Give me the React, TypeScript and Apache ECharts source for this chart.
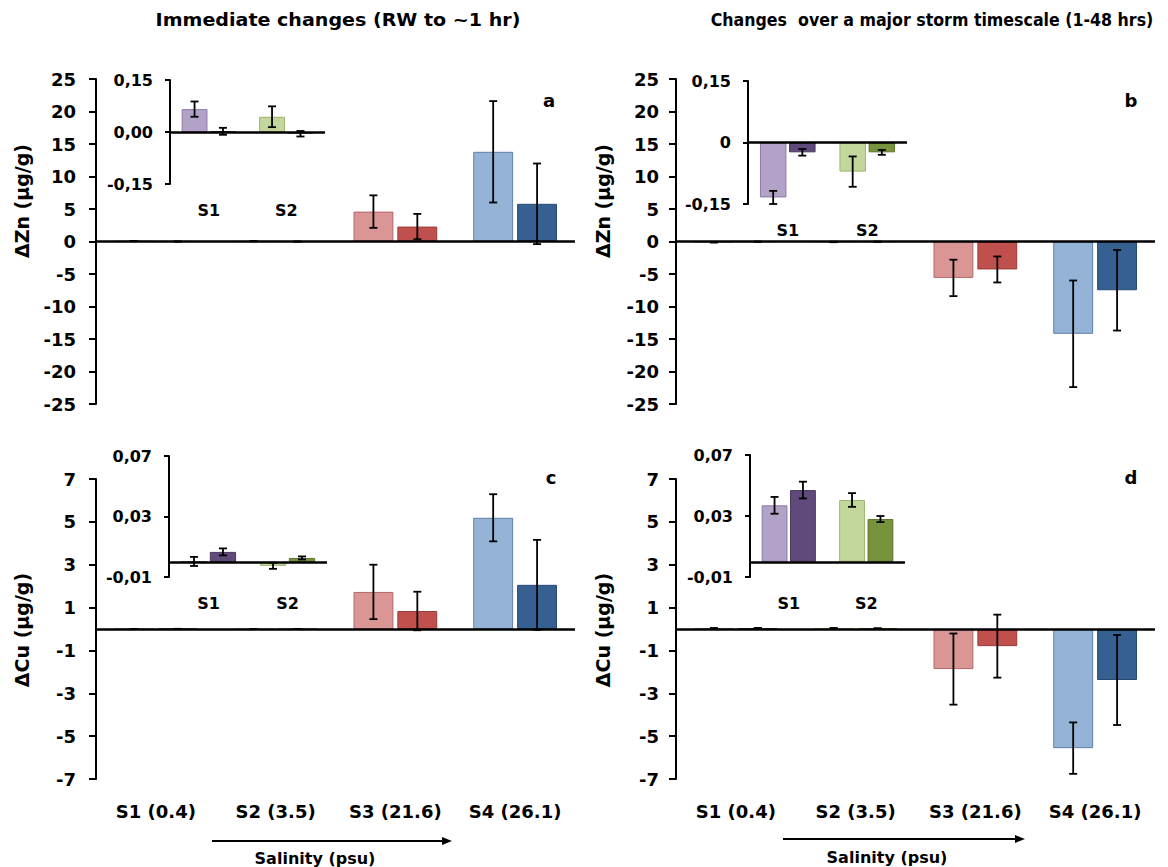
import { useEffect, useRef } from 'react';
import * as echarts from 'echarts';

const categories = ['S1 (0.4)', 'S2 (3.5)', 'S3 (21.6)', 'S4 (26.1)'];
const insetCategories = ['S1', 'S2'];

// Panel a: ΔZn, immediate changes
const znImmLight = [0.066, 0.044, 4.6, 13.8];
const znImmLightErr = [0.022, 0.03, 2.5, 7.8];
const znImmDark = [0.002, -0.005, 2.3, 5.8];
const znImmDarkErr = [0.01, 0.008, 1.95, 6.2];

// Panel b: ΔZn, storm timescale
const znStormLight = [-0.134, -0.071, -5.6, -14.2];
const znStormLightErr = [0.016, 0.037, 2.8, 8.2];
const znStormDark = [-0.024, -0.024, -4.3, -7.5];
const znStormDarkErr = [0.008, 0.006, 2.0, 6.2];

// Panel c: ΔCu, immediate changes
const cuImmLight = [0.0003, -0.0026, 1.73, 5.19];
const cuImmLightErr = [0.003, 0.002, 1.27, 1.1];
const cuImmDark = [0.0066, 0.0026, 0.84, 2.06];
const cuImmDarkErr = [0.0023, 0.001, 0.9, 2.1];

// Panel d: ΔCu, storm timescale
const cuStormLight = [0.037, 0.0405, -1.87, -5.56];
const cuStormLightErr = [0.0055, 0.0045, 1.66, 1.2];
const cuStormDark = [0.047, 0.028, -0.8, -2.38];
const cuStormDarkErr = [0.0055, 0.002, 1.47, 2.1];

const lightColors = ['#B3A2C7', '#C3D69B', '#D99694', '#95B3D7'];
const lightBorders = ['#8E7AA8', '#9DB56E', '#B56765', '#5F7FA8'];
const darkColors = ['#604A7B', '#77933C', '#C0504D', '#376092'];
const darkBorders = ['#4A385F', '#5E7530', '#9A3C3A', '#284A72'];

const FONT = '"DejaVu Sans", Verdana, sans-serif';

const panels = [
  { light: znImmLight, lightErr: znImmLightErr, dark: znImmDark, darkErr: znImmDarkErr },
  { light: znStormLight, lightErr: znStormLightErr, dark: znStormDark, darkErr: znStormDarkErr },
  { light: cuImmLight, lightErr: cuImmLightErr, dark: cuImmDark, darkErr: cuImmDarkErr },
  { light: cuStormLight, lightErr: cuStormLightErr, dark: cuStormDark, darkErr: cuStormDarkErr },
];

const mainGrids = [
  { left: 96, top: 79, width: 479, height: 325 },
  { left: 676, top: 79, width: 479, height: 325 },
  { left: 96, top: 479, width: 479, height: 300 },
  { left: 676, top: 479, width: 479, height: 300 },
];
const insetGrids = [
  { left: 170, top: 80, width: 155, height: 104 },
  { left: 748, top: 81, width: 159, height: 123 },
  { left: 169, top: 456, width: 158, height: 121 },
  { left: 750, top: 455, width: 155, height: 122 },
];

const comma2 = (v: number) => v.toFixed(2).replace('.', ',');
const insetFormatters = [
  comma2,
  (v: number) => (Math.abs(v) < 1e-9 ? '0' : comma2(v)),
  comma2,
  comma2,
];
const mainRanges = [
  { min: -25, max: 25, interval: 5 },
  { min: -25, max: 25, interval: 5 },
  { min: -7, max: 7, interval: 2 },
  { min: -7, max: 7, interval: 2 },
];
const insetRanges = [
  { min: -0.15, max: 0.15, interval: 0.15 },
  { min: -0.15, max: 0.15, interval: 0.15 },
  { min: -0.01, max: 0.07, interval: 0.04 },
  { min: -0.01, max: 0.07, interval: 0.04 },
];

function barSeries(axisIdx: number, vals: number[], colors: string[], borders: string[], withZero: boolean) {
  const s: any = {
    type: 'bar',
    xAxisIndex: axisIdx,
    yAxisIndex: axisIdx,
    barWidth: '33.3%',
    barGap: '10%',
    silent: true,
    data: vals.map((v, i) => ({
      value: v,
      itemStyle: { color: colors[i], borderColor: borders[i], borderWidth: 1 },
    })),
  };
  if (withZero) {
    s.markLine = {
      silent: true,
      symbol: ['none', 'none'],
      label: { show: false },
      lineStyle: { color: '#000', width: 2.5, type: 'solid' },
      data: [{ yAxis: 0 }],
      z: 6,
    };
  }
  return s;
}

function errSeries(axisIdx: number, vals: number[], errs: number[], sign: number) {
  return {
    type: 'custom',
    xAxisIndex: axisIdx,
    yAxisIndex: axisIdx,
    z: 8,
    silent: true,
    encode: { x: 0, y: [1, 2] },
    data: vals.map((v, i) => [i, v - errs[i], v + errs[i]]),
    renderItem: (params: any, api: any) => {
      const i = api.value(0);
      const lo = api.coord([i, api.value(1)]);
      const hi = api.coord([i, api.value(2)]);
      const band = api.size([1, 0])[0];
      const x = lo[0] + sign * band * (22 / 120);
      const st = { stroke: '#000', lineWidth: 1.8 };
      return {
        type: 'group',
        children: [
          { type: 'line', shape: { x1: x, y1: lo[1], x2: x, y2: hi[1] }, style: st },
          { type: 'line', shape: { x1: x - 4, y1: lo[1], x2: x + 4, y2: lo[1] }, style: st },
          { type: 'line', shape: { x1: x - 4, y1: hi[1], x2: x + 4, y2: hi[1] }, style: st },
        ],
      };
    },
  };
}

function buildOption() {
  const grid: any[] = [...mainGrids, ...insetGrids];
  const xAxis: any[] = [];
  const yAxis: any[] = [];
  const series: any[] = [];

  mainGrids.forEach((_, k) => {
    xAxis.push({
      type: 'category',
      gridIndex: k,
      data: categories,
      axisLine: { show: false },
      axisTick: { show: false },
      axisLabel: {
        show: k >= 2,
        interval: 0,
        color: '#000',
        fontSize: 18,
        fontWeight: 'bold',
        fontFamily: FONT,
        margin: 23,
      },
    });
    yAxis.push({
      type: 'value',
      gridIndex: k,
      ...mainRanges[k],
      axisLine: { show: true, lineStyle: { color: '#000', width: 2 } },
      axisTick: { show: true, length: 7, lineStyle: { color: '#000', width: 2 } },
      splitLine: { show: false },
      axisLabel: {
        color: '#000',
        fontSize: 18,
        fontWeight: 'bold',
        fontFamily: FONT,
        margin: k % 2 === 1 ? 17 : 20,
        formatter: (v: number) => String(Math.round(v)),
      },
    });
  });

  insetGrids.forEach((_, k) => {
    const gi = k + 4;
    xAxis.push({
      type: 'category',
      gridIndex: gi,
      data: insetCategories,
      axisLine: { show: false },
      axisTick: { show: false },
      axisLabel: {
        interval: 0,
        color: '#000',
        fontSize: 16,
        fontWeight: 'bold',
        fontFamily: FONT,
        margin: 18,
      },
    });
    yAxis.push({
      type: 'value',
      gridIndex: gi,
      ...insetRanges[k],
      axisLine: { show: true, lineStyle: { color: '#000', width: 2 } },
      axisTick: { show: true, length: 5, lineStyle: { color: '#000', width: 2 } },
      splitLine: { show: false },
      axisLabel: {
        color: '#000',
        fontSize: 16,
        fontWeight: 'bold',
        fontFamily: FONT,
        margin: 17,
        formatter: insetFormatters[k],
      },
    });
  });

  panels.forEach((p, k) => {
    // main
    series.push(barSeries(k, p.light, lightColors, lightBorders, true));
    series.push(barSeries(k, p.dark, darkColors, darkBorders, false));
    series.push(errSeries(k, p.light, p.lightErr, -1));
    series.push(errSeries(k, p.dark, p.darkErr, 1));
    // inset (S1 and S2 only)
    const gi = k + 4;
    series.push(barSeries(gi, p.light.slice(0, 2), lightColors, lightBorders, true));
    series.push(barSeries(gi, p.dark.slice(0, 2), darkColors, darkBorders, false));
    series.push(errSeries(gi, p.light.slice(0, 2), p.lightErr.slice(0, 2), -1));
    series.push(errSeries(gi, p.dark.slice(0, 2), p.darkErr.slice(0, 2), 1));
  });

  const txt = (x: number, y: number, text: string, fontSize: number, extra: any = {}) => ({
    type: 'text',
    x,
    y,
    style: {
      text,
      fill: '#000',
      font: `bold ${fontSize}px ${FONT}`,
      align: 'center',
      verticalAlign: 'middle',
    },
    ...extra,
  });

  const arrow = (x1: number, x2: number, y: number) => [
    { type: 'line', shape: { x1, y1: y, x2: x2 - 8, y2: y }, style: { stroke: '#000', lineWidth: 2 } },
    {
      type: 'polygon',
      shape: { points: [[x2 - 10, y - 4], [x2, y], [x2 - 10, y + 4]] },
      style: { fill: '#000' },
    },
  ];

  const graphic: any[] = [
    txt(338, 20, 'Immediate changes (RW to ~1 hr)', 18, { scaleX: 1.06 }),
    txt(932, 20, 'Changes  over a major storm timescale (1-48 hrs)', 18, { scaleX: 0.88 }),
    txt(22, 201, 'ΔZn (µg/g)', 19, { rotation: Math.PI / 2 }),
    txt(603, 201, 'ΔZn (µg/g)', 19, { rotation: Math.PI / 2 }),
    txt(22, 630, 'ΔCu (µg/g)', 19, { rotation: Math.PI / 2 }),
    txt(603, 630, 'ΔCu (µg/g)', 19, { rotation: Math.PI / 2 }),
    txt(549, 100, 'a', 18),
    txt(1131, 100, 'b', 18),
    txt(551, 477, 'c', 18),
    txt(1131, 477, 'd', 18),
    ...arrow(212, 452, 841),
    ...arrow(783, 1025, 839),
    txt(315, 858, 'Salinity (psu)', 16),
    txt(887, 857, 'Salinity (psu)', 16),
  ];

  return {
    animation: false,
    backgroundColor: '#fff',
    grid,
    xAxis,
    yAxis,
    series,
    graphic,
  };
}

export default function App() {
  const ref = useRef<HTMLDivElement>(null);
  useEffect(() => {
    if (!ref.current) return;
    const chart = echarts.init(ref.current, undefined, { renderer: 'svg' });
    chart.setOption(buildOption() as any);
    return () => chart.dispose();
  }, []);
  return (
    <div
      ref={ref}
      style={{ position: 'fixed', left: 0, top: 0, width: 1168, height: 867, background: '#fff' }}
    />
  );
}
